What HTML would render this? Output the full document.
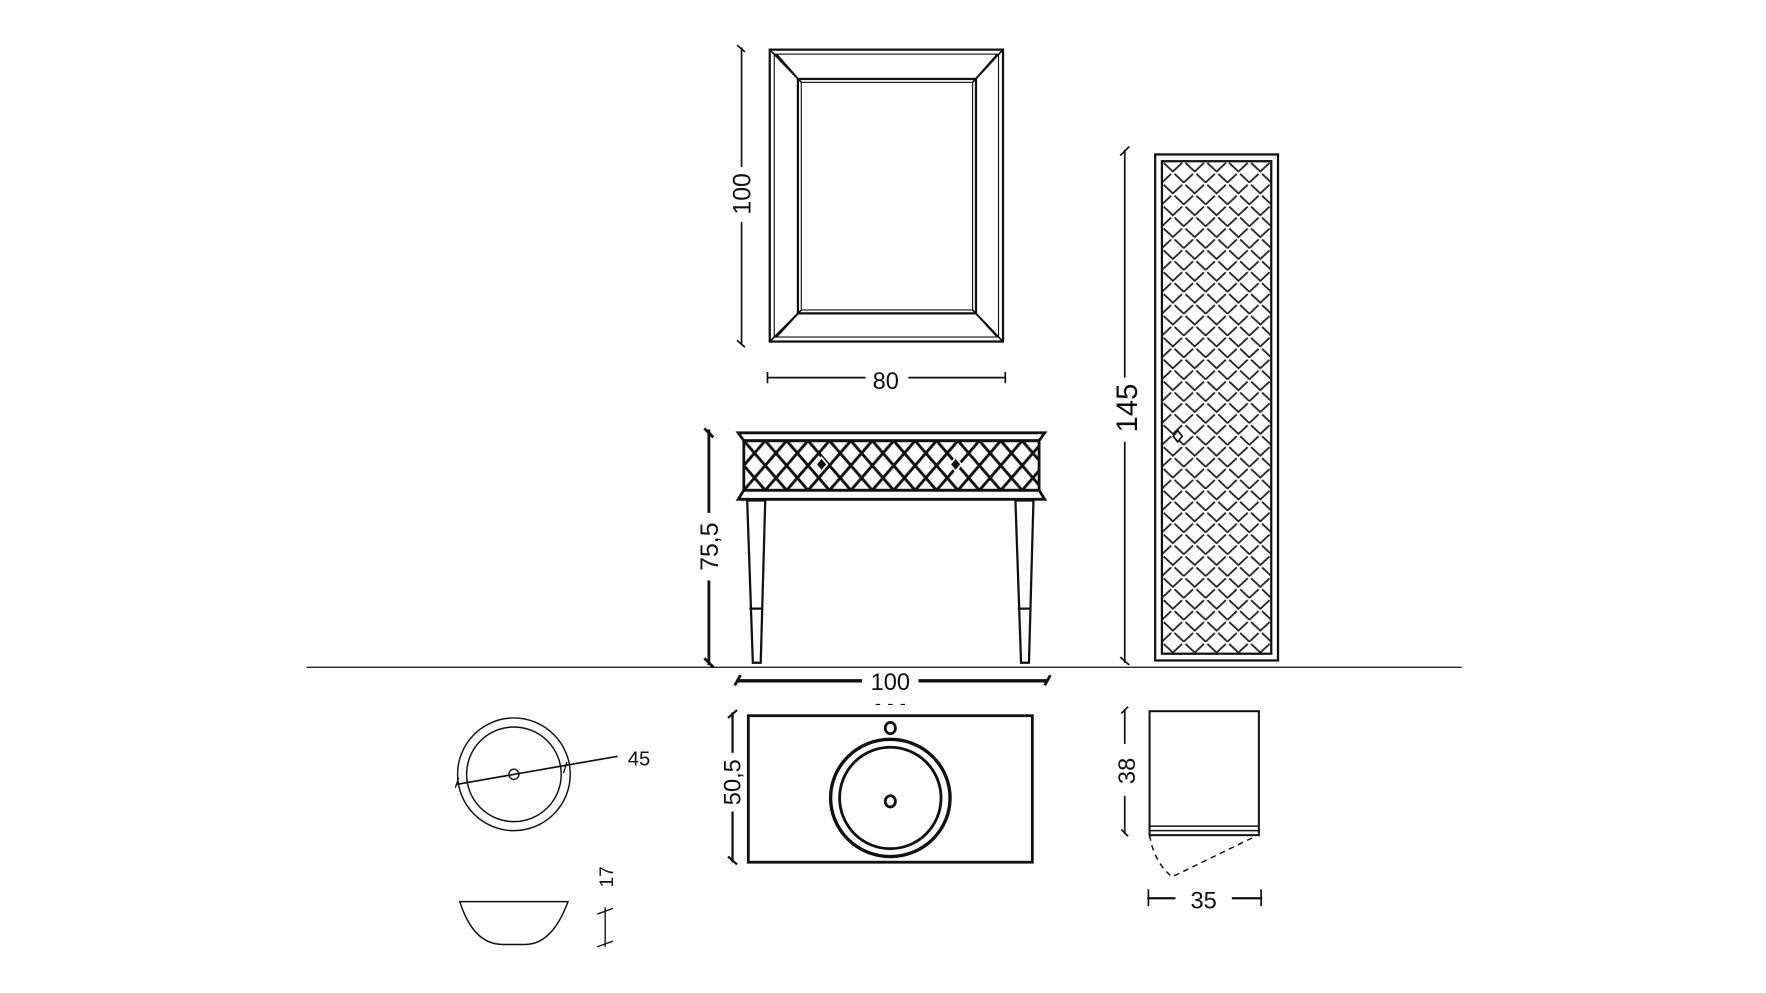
<!DOCTYPE html>
<html><head><meta charset="utf-8"><style>
html,body{margin:0;padding:0;background:#fff;}
svg{display:block;}
text{font-family:"Liberation Sans",sans-serif;fill:#111;}
</style></head><body>
<svg width="1766" height="993" viewBox="0 0 1567 881" xmlns="http://www.w3.org/2000/svg">
<defs>
<pattern id="lat" x="660" y="391" width="19" height="22" patternUnits="userSpaceOnUse">
<path d="M0 0 L19 22 M19 0 L0 22" stroke="#111" stroke-width="2.6" fill="none"/>
</pattern>
<pattern id="lat2" x="1031" y="143" width="19.4" height="19.4" patternUnits="userSpaceOnUse">
<path d="M1.5 1.5 L9.7 9.2 L17.9 1.5 M-8.2 11.2 L0 18.9 L8.2 11.2 M11.2 11.2 L19.4 18.9 L27.6 11.2" stroke="#222" stroke-width="1.6" fill="none"/>
</pattern>
</defs>
<rect width="1567" height="881" fill="#fff"/>
<g stroke="#111" fill="none">
<rect x="683" y="44" width="207" height="259" stroke-width="2"/>
<rect x="687" y="48" width="199" height="251" stroke-width="1"/>
<rect x="708" y="70" width="158" height="208" stroke-width="2"/>
<rect x="711" y="73" width="152" height="202" stroke-width="1"/>
<path d="M684 45 L708 70 M689 48 L711 73 M889 45 L866 70 M885 48 L863 73 M684 302 L708 278 M689 299 L711 275 M889 302 L866 278 M885 299 L863 275" stroke-width="1.5"/>
<path d="M658 42 L658 148 M658 197 L658 305" stroke-width="1.5"/>
<path d="M654 40 L661 46 M654 302 L661 308" stroke-width="1.5"/>
<path d="M681 335 L768 335 M806 335 L892 335" stroke-width="1.5"/>
<path d="M681 330 L681 340 M892 330 L892 340" stroke-width="1.5"/>
<path d="M655 384 L927 384 L922 391 L660 391 Z" stroke-width="2.5" fill="#fff"/>
<rect x="660" y="391" width="262" height="44" fill="url(#lat)" stroke-width="2.5"/>
<path d="M660 435 L922 435 L927 443 L655 443 Z" stroke-width="2.5" fill="#fff"/>
<path d="M663 444 L679 444 L675 588 L668 588 Z" stroke-width="2"/>
<path d="M665 540 L677 540" stroke-width="2"/>
<path d="M901 444 L917 444 L913 588 L906 588 Z" stroke-width="2"/>
<path d="M903 540 L915 540" stroke-width="2"/>
<path d="M729 406 L734 412 L729 418 L724 412 Z" fill="#111" stroke="#fff" stroke-width="1.5"/>
<path d="M848 406 L853 412 L848 418 L843 412 Z" fill="#111" stroke="#fff" stroke-width="1.5"/>
<path d="M629 381 L629 455 M629 515 L629 590" stroke-width="2.5"/>
<path d="M625 380 L633 388 M625 584 L633 592" stroke-width="2.5"/>
<path d="M272 592 L1297 592" stroke-width="1.2"/>
<path d="M654 604 L765 604 M815 604 L930 604" stroke-width="3"/>
<path d="M652 608 L657 599 M927 608 L932 599" stroke-width="2.5"/>
<rect x="1025" y="137" width="109" height="449" stroke-width="2"/>
<rect x="1031" y="143" width="97" height="437" fill="url(#lat2)" stroke-width="2"/>
<path d="M1045 382 L1049 387 L1045 392 L1041 387 Z" fill="#fff" stroke-width="1.5"/>
<path d="M998 133 L998 335 M998 392 L998 588" stroke-width="1.5"/>
<path d="M994 138 L1002 130 M994 583 L1002 590" stroke-width="1.5"/>
<rect x="664" y="635" width="252" height="130" stroke-width="2.5"/>
<ellipse cx="790" cy="646" rx="4.5" ry="5" stroke-width="2.5"/>
<ellipse cx="790" cy="708" rx="53" ry="52" stroke-width="3"/>
<ellipse cx="790" cy="708" rx="45" ry="45" stroke-width="2.5"/>
<ellipse cx="790" cy="711" rx="4.5" ry="5" stroke-width="2.5"/>
<path d="M777 625 L781 625 M788 625 L792 625 M799 625 L803 625" stroke-width="1"/>
<path d="M650 632 L650 668 M650 720 L650 765" stroke-width="2"/>
<path d="M646 637 L654 630 M646 760 L654 767" stroke-width="2"/>
<circle cx="456" cy="687" r="50" stroke-width="1.3"/>
<circle cx="456" cy="687" r="42" stroke-width="1.3"/>
<circle cx="456" cy="687" r="4.5" stroke-width="1.2"/>
<path d="M405 696 L548 671" stroke-width="1.5"/>
<path d="M407 690 L404 699 M503 676 L500 686" stroke-width="1.2"/>
<path d="M408 800 L504 800 Q490 838 466 838 L446 838 Q420 838 408 800 Z" stroke-width="1.3"/>
<path d="M537 805 L537 840 M530 811 L544 806 M530 840 L544 835" stroke-width="1.2"/>
<rect x="1020" y="631" width="97" height="110" stroke-width="1.8"/>
<path d="M1020 733 L1117 733 M1020 737 L1117 737" stroke-width="1.3"/>
<path d="M1020 741 Q1024 765 1040 778 L1114 742" stroke-width="1.3" stroke-dasharray="5,4"/>
<path d="M998 629 L998 660 M998 706 L998 740" stroke-width="1.5"/>
<path d="M995 633 L1001 627 M995 736 L1001 742" stroke-width="1.5"/>
<path d="M1018 797 L1043 797 M1093 797 L1120 797" stroke-width="2"/>
<path d="M1019 789 L1019 804 M1119 789 L1119 804" stroke-width="1.5"/>
</g>
<g>
<text x="0" y="0" font-size="22" text-anchor="middle" transform="translate(666,172) rotate(-90)">100</text>
<text x="786" y="345" font-size="21" text-anchor="middle">80</text>
<text x="0" y="0" font-size="22" text-anchor="middle" transform="translate(637,485) rotate(-90)">75,5</text>
<text x="790" y="612" font-size="21" text-anchor="middle">100</text>
<text x="0" y="0" font-size="26" text-anchor="middle" transform="translate(1009,362) rotate(-90)">145</text>
<text x="0" y="0" font-size="21" text-anchor="middle" transform="translate(657,694) rotate(-90)">50,5</text>
<text x="567" y="679" font-size="18" text-anchor="middle">45</text>
<text x="0" y="0" font-size="17" text-anchor="middle" transform="translate(544,778) rotate(-90)">17</text>
<text x="0" y="0" font-size="21" text-anchor="middle" transform="translate(1007,684) rotate(-90)">38</text>
<text x="1068" y="806" font-size="21" text-anchor="middle">35</text>
</g>
</svg>
</body></html>
